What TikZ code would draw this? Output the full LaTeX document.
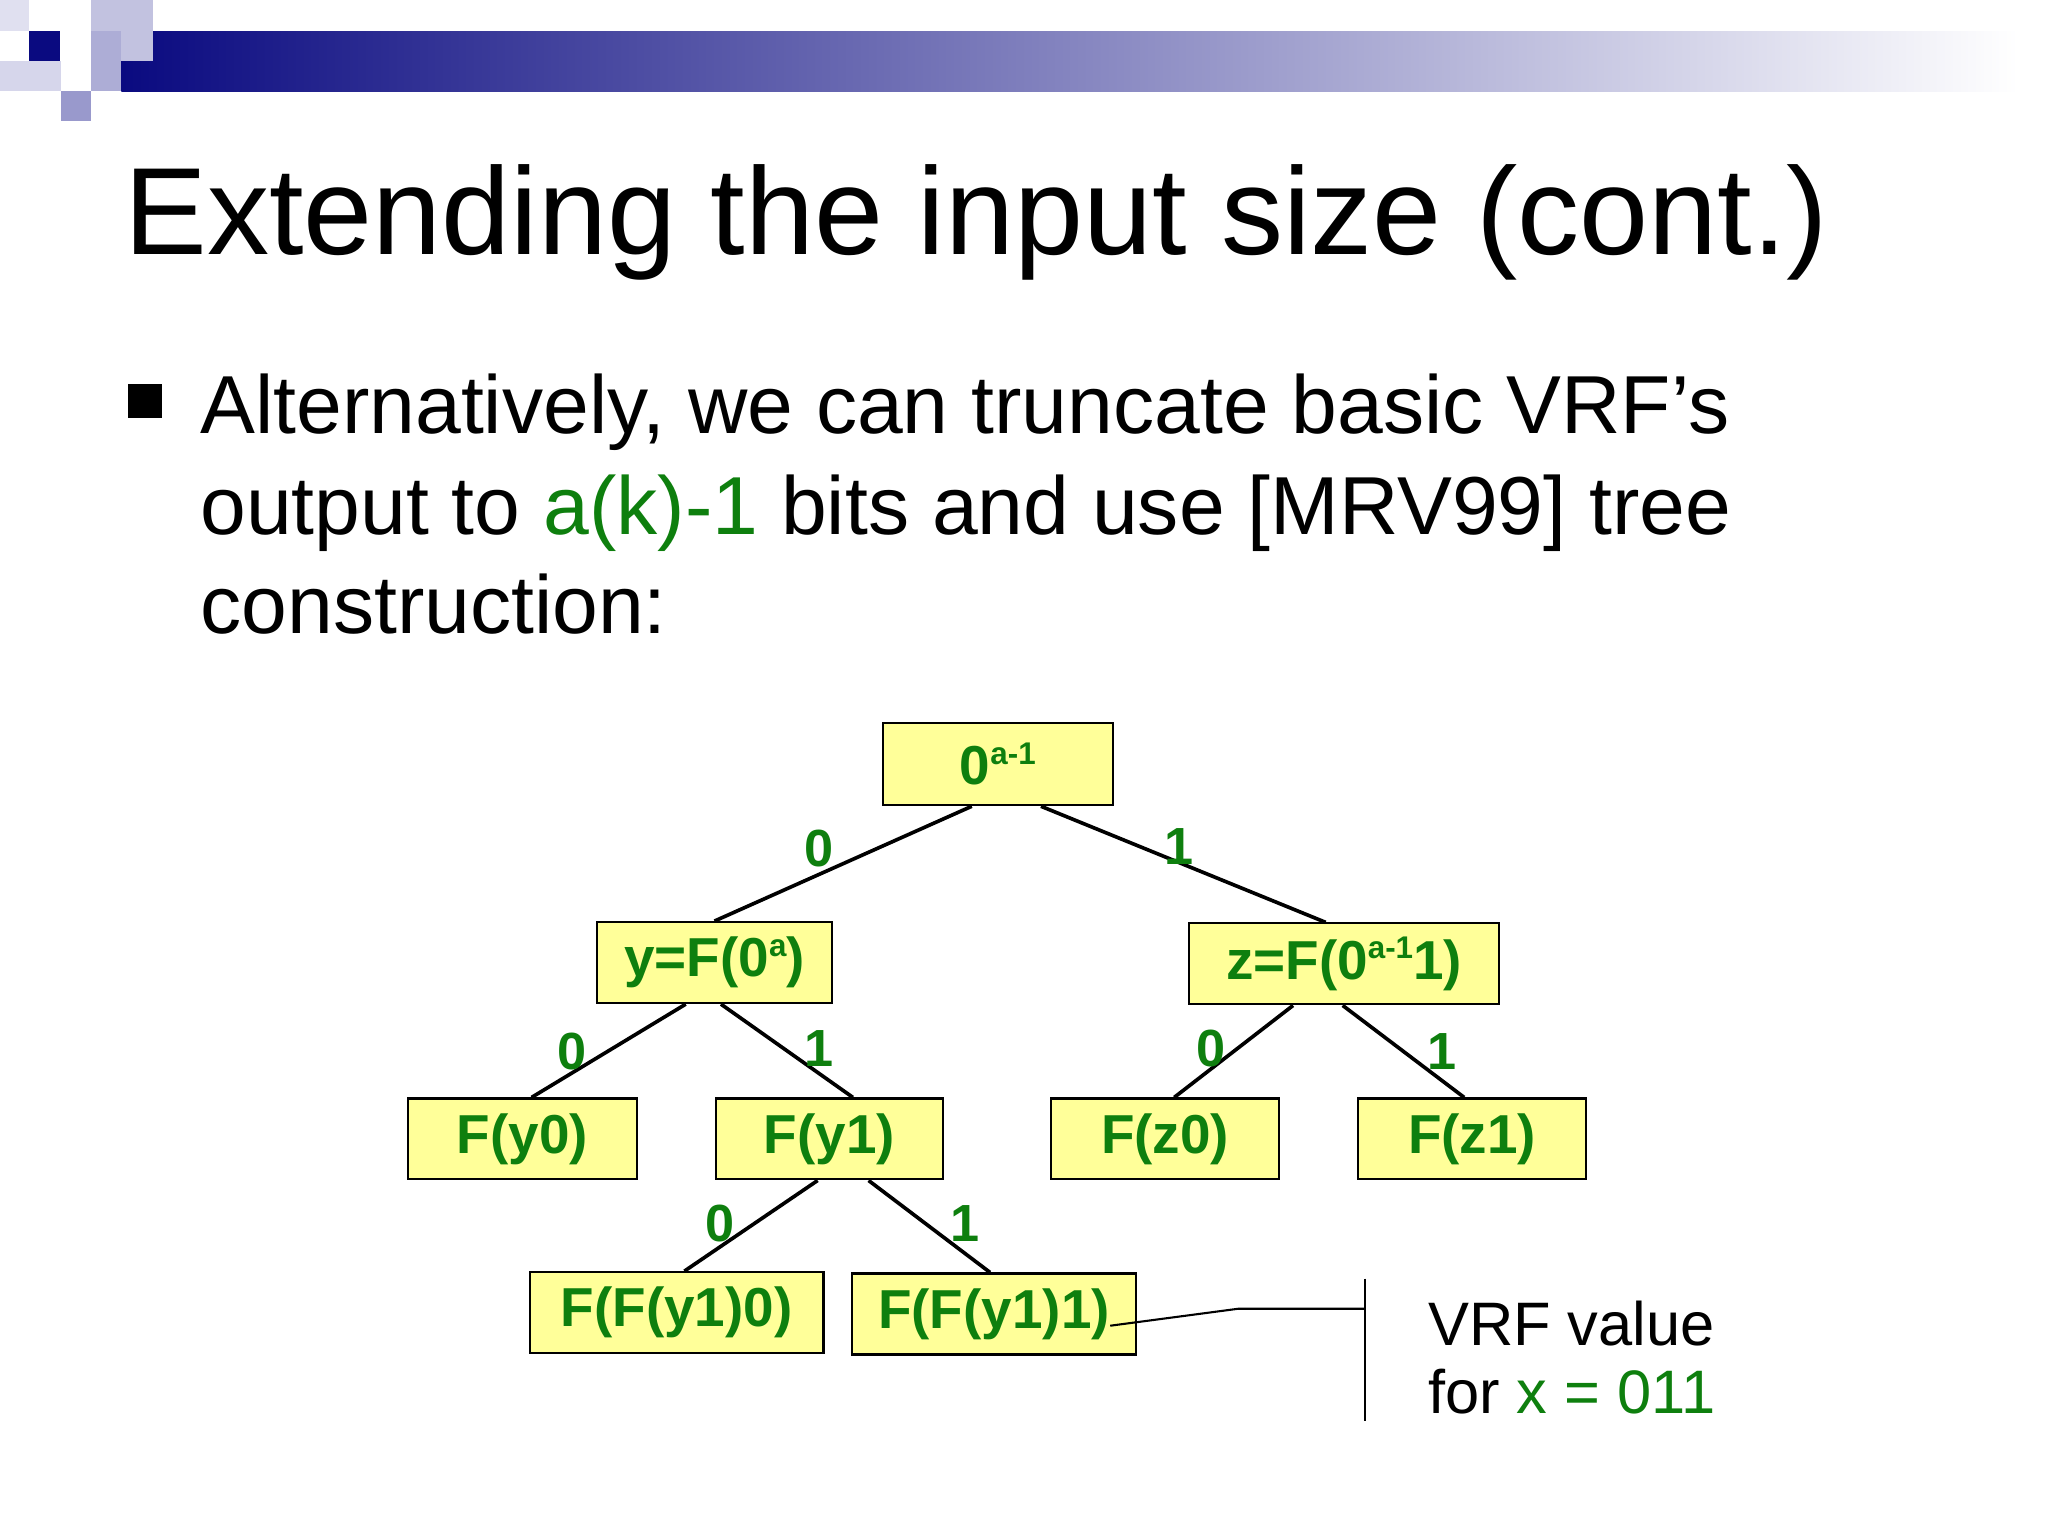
\documentclass[tikz,border=0pt]{standalone}
\usepackage{fontspec}
\setmainfont{Liberation Sans}
\begin{document}
\begin{tikzpicture}[x=0.5pt,y=-0.5pt,
  bx/.style={draw=black,line width=0.8pt,fill=boxy,inner sep=0pt,text=tgreen,font=\fontsize{21}{24}\selectfont\bfseries},
  ed/.style={line width=1.4pt},
  el/.style={text=tgreen,font=\fontsize{20}{24}\selectfont\bfseries,inner sep=0pt},
  bl/.style={anchor=base west,inner sep=0pt,font=\fontsize{31.5}{38}\selectfont}]
\definecolor{boxy}{HTML}{FFFF99}
\definecolor{tgreen}{HTML}{0E7F0E}
\definecolor{navy}{HTML}{0A0A80}
\definecolor{lav}{HTML}{9999CC}
\useasboundingbox (0,0) rectangle (1568,1176);
\fill[white] (0,0) rectangle (1568,1176);
% header
\shade[left color=navy,right color=white] (93,24) rectangle (1545,70);
\fill[navy] (22,24) rectangle (46,47);
\fill[lav!60] (70,0) rectangle (117,47);
\fill[lav!80] (70,24) rectangle (93,70);
\fill[lav!40] (0,47) rectangle (47,70);
\fill[lav] (47,70) rectangle (70,93);
\fill[lav!30] (0,0) rectangle (22,24);
% title
\node[anchor=base west,inner sep=0pt,font=\fontsize{47.5}{56}\selectfont] (title) at (95,195) {Extending the input size (cont.)};
\fill (98,294) rectangle (124,320);
\node[bl] (b1) at (153,332) {Alternatively, we can truncate basic VRF’s};
\node[bl] (b2) at (153,409) {output to \textcolor{tgreen}{a(k)-1} bits and use [MRV99] tree};
\node[bl] (b3) at (153,485) {construction:};
% boxes
\node[bx,minimum width=88pt,minimum height=31.5pt] (r) at (764,585) {0\raisebox{0.7ex}{\fontsize{12}{14}\selectfont a-1}};
\node[bx,minimum width=90pt,minimum height=31pt] (y) at (547,737) {y=F(0\raisebox{0.7ex}{\fontsize{12}{14}\selectfont a})};
\node[bx,minimum width=119pt,minimum height=31pt] (z) at (1029,738) {z=F(0\raisebox{0.7ex}{\fontsize{12}{14}\selectfont a-1}1)};
\node[bx,minimum width=87.5pt,minimum height=31pt] (fy0) at (400,872) {F(y0)};
\node[bx,minimum width=87pt,minimum height=31pt] (fy1) at (635,872) {F(y1)};
\node[bx,minimum width=87.5pt,minimum height=31pt] (fz0) at (892,872) {F(z0)};
\node[bx,minimum width=87pt,minimum height=31pt] (fz1) at (1127,872) {F(z1)};
\node[bx,minimum width=112.5pt,minimum height=31pt] (ff0) at (518,1005) {F(F(y1)0)};
\node[bx,minimum width=108.5pt,minimum height=31pt] (ff1) at (761,1006) {F(F(y1)1)};
% edges
\draw[ed] ([xshift=-10pt]r.south) -- (y.north);
\draw[ed] ([xshift=16.5pt]r.south) -- ([xshift=-7pt]z.north);
\draw[ed] ([xshift=-11pt]y.south) -- ([xshift=3.5pt]fy0.north);
\draw[ed] ([xshift=2.5pt]y.south) -- ([xshift=9pt]fy1.north);
\draw[ed] ([xshift=-19.5pt]z.south) -- ([xshift=3.5pt]fz0.north);
\draw[ed] ([xshift=-0.5pt]z.south) -- ([xshift=-3pt]fz1.north);
\draw[ed] ([xshift=-4.5pt]fy1.south) -- ([xshift=3pt]ff0.north);
\draw[ed] ([xshift=15pt]fy1.south) -- ([xshift=-1.5pt]ff1.north);
% edge labels
\node[el] (l1) at (627,650) {0};
\node[el] (l2) at (903,648) {1};
\node[el] (l3) at (438,805) {0};
\node[el] (l4) at (627,803) {1};
\node[el] (l5) at (927,803) {0};
\node[el] (l6) at (1104,805) {1};
\node[el] (l7) at (551,937) {0};
\node[el] (l8) at (739,937) {1};
% callout
\coordinate (c1) at (850,1015);
\coordinate (c2) at (948,1002);
\coordinate (c3) at (1045,1002);
\coordinate (t1) at (1045,979);
\coordinate (t2) at (1045,1088);
\draw[line width=0.8pt] (c1) -- (c2) -- (c3);
\draw[line width=0.8pt] (t1) -- (t2);
\node[anchor=base west,inner sep=0pt,font=\fontsize{23.5}{26}\selectfont] (vrf1) at (1093,1030) {VRF value};
\node[anchor=base west,inner sep=0pt,font=\fontsize{23.5}{26}\selectfont] (vrf2) at (1093,1082) {for \textcolor{tgreen}{x = 011}};
\end{tikzpicture}
\end{document}
